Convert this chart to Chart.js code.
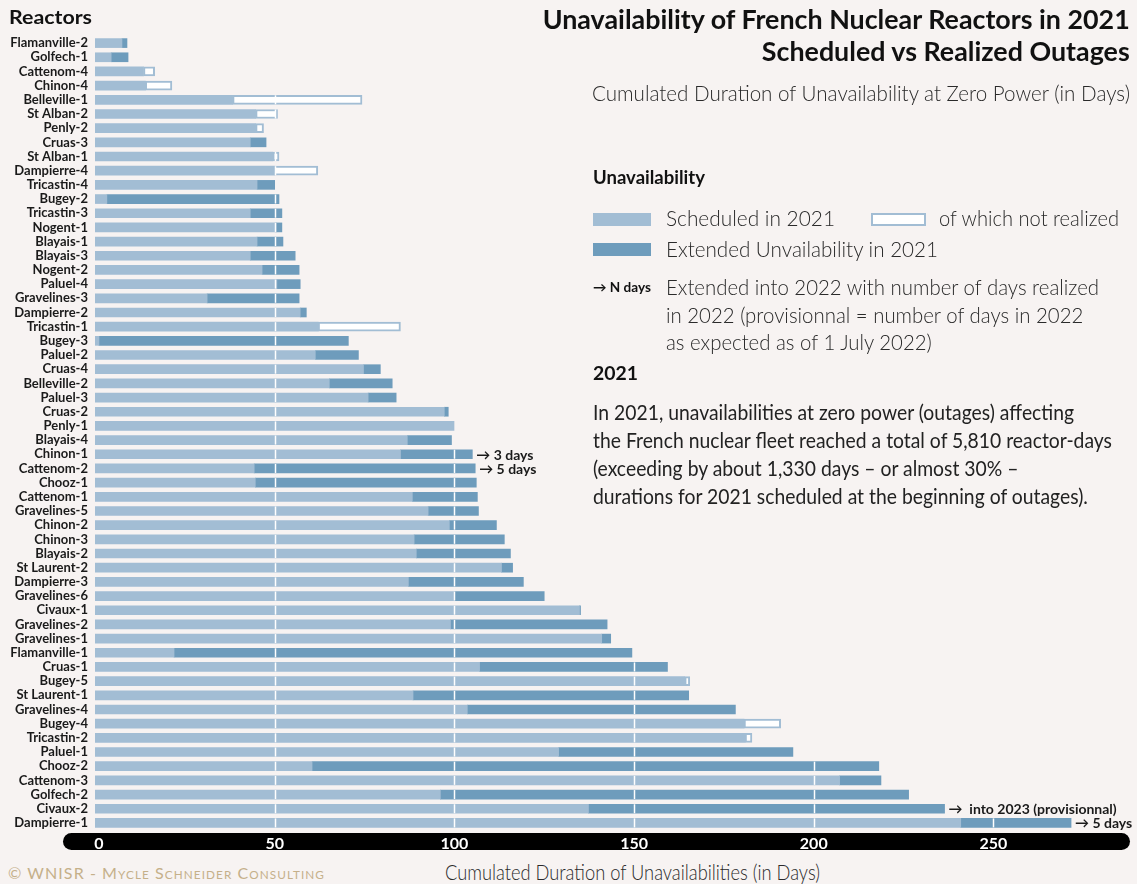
<!DOCTYPE html>
<html>
<head>
<meta charset="utf-8">
<script src="https://cdn.jsdelivr.net/npm/chart.js@4.4.1/dist/chart.umd.min.js"></script>
<style>
  html, body { margin: 0; padding: 0; background: #f7f3f2; }
  body { width: 1137px; height: 884px; position: relative; overflow: hidden;
         font-family: Lato, Roboto, sans-serif; color: #1a1a1a; }
  #wrap { position: absolute; left: 0; top: 0; width: 1137px; height: 856px; }
  .abs { position: absolute; white-space: nowrap; transform-origin: left center; }
  .bold { font-weight: bold; color: #111; }
  .light { font-weight: 300; color: #2a2a2a; }
  #reactors { left: 9px; top: 7px; font-size: 19px; line-height: 20px; }
  #title { right: 7px; top: 3px; text-align: right; font-size: 27px; line-height: 32px; transform-origin: right center; }
  #subtitle { right: 7px; top: 80px; font-size: 22px; line-height: 26px; transform-origin: right center; }
  .lg { font-size: 22px; line-height: 26px; }
  .sw { position: absolute; height: 13px; box-sizing: border-box; }
  #footer { left: 8px; top: 864px; font-size: 15px; line-height: 18px; font-variant: small-caps;
            letter-spacing: 1px; color: #c5b08a; }
  #xtitle { left: 445px; top: 859px; font-size: 22px; line-height: 26px; color: #2a2a2a; }
</style>
</head>
<body>
<div id="wrap"><canvas id="outages"></canvas></div>

<div class="abs bold" id="reactors" data-w="83">Reactors</div>
<div class="abs bold" id="title" data-w="587">Unavailability of French Nuclear Reactors in 2021<br>Scheduled vs Realized Outages</div>
<div class="abs light" id="subtitle" data-w="538">Cumulated Duration of Unavailability at Zero Power (in Days)</div>

<div class="abs bold" style="left:593px;top:166px;font-size:19px;line-height:22px" data-w="112">Unavailability</div>
<div class="sw" style="left:593px;top:213px;width:58px;background:#a2bdd4"></div>
<div class="abs light lg" style="left:666px;top:205px" data-w="169">Scheduled in 2021</div>
<div class="sw" style="left:871px;top:213px;width:55px;background:#fff;border:2px solid #a2bdd4"></div>
<div class="abs light lg" style="left:939px;top:205px" data-w="180">of which not realized</div>
<div class="sw" style="left:593px;top:243px;width:58px;background:#6e9cbc"></div>
<div class="abs light lg" style="left:666px;top:236px" data-w="272">Extended Unvailability in 2021</div>
<div class="abs bold" style="left:593px;top:279px;font-size:13px;line-height:16px" data-w="58">&rarr; N days</div>
<div class="abs light lg" style="left:666px;top:273px;line-height:27.5px" data-w="433">Extended into 2022 with number of days realized<br>in 2022 (provisionnal = number of days in 2022<br>as expected as of 1 July 2022)</div>

<div class="abs bold" style="left:593px;top:362px;font-size:19px;line-height:22px" data-w="45">2021</div>
<div class="abs" style="left:593px;top:398px;font-size:22px;line-height:27.9px;color:#222" data-w="519">In 2021, unavailabilities at zero power (outages) affecting<br>the French nuclear fleet reached a total of 5,810 reactor-days<br>(exceeding by about 1,330 days &ndash; or almost 30% &ndash;<br>durations for 2021 scheduled at the beginning of outages).</div>

<div class="abs light" id="xtitle" data-w="375">Cumulated Duration of Unavailabilities (in Days)</div>
<div class="abs" id="footer" data-w="317">&copy; WNISR - Mycle Schneider Consulting</div>

<script>
// reactors, top to bottom
const reactors = [
  'Flamanville-2','Golfech-1','Cattenom-4','Chinon-4','Belleville-1','St Alban-2','Penly-2','Cruas-3',
  'St Alban-1','Dampierre-4','Tricastin-4','Bugey-2','Tricastin-3','Nogent-1','Blayais-1','Blayais-3',
  'Nogent-2','Paluel-4','Gravelines-3','Dampierre-2','Tricastin-1','Bugey-3','Paluel-2','Cruas-4',
  'Belleville-2','Paluel-3','Cruas-2','Penly-1','Blayais-4','Chinon-1','Cattenom-2','Chooz-1',
  'Cattenom-1','Gravelines-5','Chinon-2','Chinon-3','Blayais-2','St Laurent-2','Dampierre-3','Gravelines-6',
  'Civaux-1','Gravelines-2','Gravelines-1','Flamanville-1','Cruas-1','Bugey-5','St Laurent-1','Gravelines-4',
  'Bugey-4','Tricastin-2','Paluel-1','Chooz-2','Cattenom-3','Golfech-2','Civaux-2','Dampierre-1'
];

// scheduled days that were realized (light blue)
const scheduled = [
  7.5, 4.5, 13.5, 14, 38.3, 44.7, 44.7, 43.2,
  49.5, 49.9, 45.1, 3.3, 43.2, 50.4, 45.1, 43.2,
  46.5, 50.6, 31.2, 57.1, 62.1, 1.1, 61.3, 74.7,
  65.2, 76, 97.2, 99.9, 86.9, 85, 44.3, 44.6,
  88.3, 92.7, 98.6, 88.8, 89.4, 113.1, 87.2, 100,
  134.8, 98.9, 141, 22, 107, 164.1, 88.5, 103.6,
  180.6, 180.9, 129, 60.4, 207.2, 96.1, 137.3, 240.9
];

// extended unavailability (dark blue)
const extended = [
  1.4, 4.7, 0, 0, 0, 0, 0, 4.4,
  0, 0, 4.9, 47.9, 8.8, 1.6, 7.2, 12.5,
  10.3, 6.5, 25.6, 1.7, 0, 69.4, 12, 4.7,
  17.5, 7.8, 1.1, 0, 12.3, 20, 61.5, 61.5,
  18.1, 14, 13.1, 25.1, 26.2, 3.1, 32, 25,
  0.3, 43.6, 2.5, 127.4, 52.3, 0, 76.7, 74.6,
  0, 0, 65.2, 157.7, 11.5, 130.3, 99.1, 30.7
];

// scheduled but not realized (outlined)
const notRealized = [
  0, 0, 3.1, 7.4, 36, 6.1, 2.2, 0,
  1.7, 12.1, 0, 0, 0, 0, 0, 0,
  0, 0, 0, 0, 22.9, 0, 0, 0,
  0, 0, 0, 0, 0, 0, 0, 0,
  0, 0, 0, 0, 0, 0, 0, 0,
  0, 0, 0, 0, 0, 1.4, 0, 0,
  10.2, 1.9, 0, 0, 0, 0, 0, 0
];

// outages extended into 2022
const noteReactors = ['Chinon-1', 'Cattenom-2', 'Civaux-2', 'Dampierre-1'];
const noteTexts = ['\u2192 3 days', '\u2192 5 days', '\u2192  into 2023 (provisionnal)', '\u2192 5 days'];

const xTicks = [0, 50, 100, 150, 200, 250];

const LIGHT = '#a2bdd4';
const DARK = '#6e9cbc';
const FONT = 'Lato, Roboto, sans-serif';
const BAR = 9;

// zero -> null so empty pieces are not drawn
const noZero = arr => arr.map(v => v === 0 ? null : v);
const totalOf = i => scheduled[i] + extended[i] + notRealized[i];

// black rounded bar behind the x tick labels
const axisPill = {
  id: 'axisPill',
  beforeDraw(chart) {
    const ctx = chart.ctx;
    const xs = chart.scales.x;
    const top = xs.top + 3, h = 17;
    const left = 63, right = chart.width - 7;
    ctx.save();
    ctx.fillStyle = '#000';
    ctx.beginPath();
    ctx.roundRect(left, top, right - left, h, h / 2);
    ctx.fill();
    ctx.restore();
  }
};

// white grid cuts through the bars + notes at the bar ends
const overlay = {
  id: 'overlay',
  afterDatasetsDraw(chart) {
    const ctx = chart.ctx;
    const xs = chart.scales.x, ys = chart.scales.y;
    ctx.save();
    ctx.strokeStyle = '#ffffff';
    ctx.lineWidth = 1.5;
    reactors.forEach((name, i) => {
      const y = ys.getPixelForValue(i);
      xTicks.forEach(t => {
        if (t === 0 || t >= totalOf(i)) return;
        const px = Math.round(xs.getPixelForValue(t)) + 0.5;
        ctx.beginPath();
        ctx.moveTo(px, y - BAR / 2);
        ctx.lineTo(px, y + BAR / 2);
        ctx.stroke();
      });
    });

    ctx.fillStyle = '#1a1a1a';
    ctx.font = 'bold 14px ' + FONT;
    ctx.textBaseline = 'middle';
    noteReactors.forEach((name, k) => {
      const i = reactors.indexOf(name);
      ctx.fillText(noteTexts[k], xs.getPixelForValue(totalOf(i)) + 4, ys.getPixelForValue(i) + 1);
    });
    ctx.restore();
  }
};

function drawChart() {
  const ctx = document.getElementById('outages').getContext('2d');
  new Chart(ctx, {
    type: 'bar',
    data: {
      labels: reactors,
      datasets: [
        { label: 'Scheduled in 2021', data: noZero(scheduled), backgroundColor: LIGHT, barThickness: BAR },
        { label: 'Extended Unvailability in 2021', data: noZero(extended), backgroundColor: DARK, barThickness: BAR },
        { label: 'of which not realized', data: noZero(notRealized), backgroundColor: '#ffffff',
          borderColor: LIGHT, borderWidth: 2, borderSkipped: false, barThickness: BAR }
      ]
    },
    options: {
      indexAxis: 'y',
      responsive: true,
      maintainAspectRatio: false,
      animation: false,
      layout: { padding: { top: 36, right: 7, bottom: 2, left: 0 } },
      plugins: { legend: { display: false }, tooltip: { enabled: false } },
      scales: {
        x: {
          stacked: true,
          min: 0,
          max: 288,
          grid: { display: false, drawTicks: false },
          border: { display: false },
          afterFit: s => { s.height = 24; },
          afterBuildTicks: s => { s.ticks = xTicks.map(v => ({ value: v })); },
          ticks: {
            color: '#ffffff', padding: 4, font: { family: FONT, size: 16, weight: 'bold' },
            // the "0" sits a little right of the axis origin
            callback: v => v === 0 ? '  0' : v
          }
        },
        y: {
          stacked: true,
          grid: { display: false, drawTicks: false },
          border: { display: false },
          afterFit: s => { s.width = 95; },
          ticks: { color: '#1a1a1a', padding: 7, autoSkip: false, font: { family: FONT, size: 13, weight: 'bold' } }
        }
      }
    },
    plugins: [axisPill, overlay]
  });
}

// squeeze the html texts to the widths of the condensed original
function fitTexts() {
  document.querySelectorAll('[data-w]').forEach(el => {
    const w = el.getBoundingClientRect().width;
    const k = parseFloat(el.dataset.w) / w;
    el.style.transform = 'scaleX(' + k + ')';
  });
}

document.fonts.ready.then(() => {
  fitTexts();
  drawChart();
});
</script>
</body>
</html>
